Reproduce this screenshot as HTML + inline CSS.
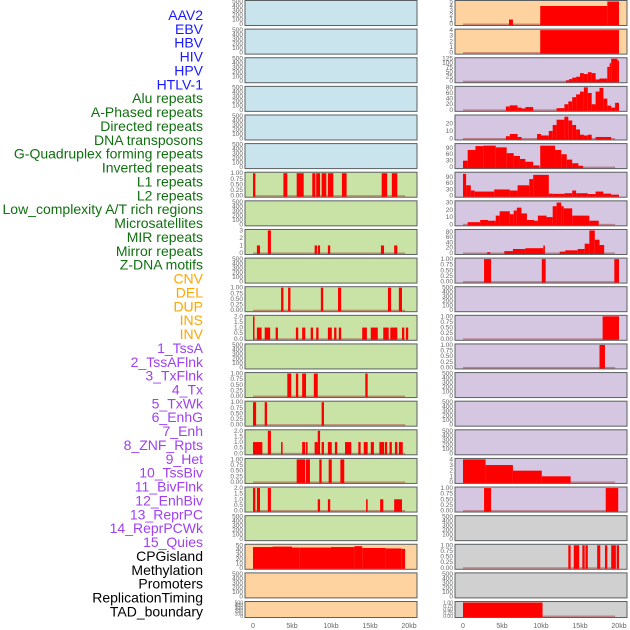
<!DOCTYPE html>
<html><head><meta charset="utf-8">
<style>
html,body{margin:0;padding:0;background:#fff;}
svg{display:block;font-family:"Liberation Sans",sans-serif;}
</style></head>
<body>
<svg id="chart" width="630" height="630" viewBox="0 0 630 630"></svg>
<script>
const trackNames=["AAV2","EBV","HBV","HIV","HPV","HTLV-1","Alu repeats","A-Phased repeats","Directed repeats","DNA transposons","G-Quadruplex forming repeats","Inverted repeats","L1 repeats","L2 repeats","Low_complexity A/T rich regions","Microsatellites","MIR repeats","Mirror repeats","Z-DNA motifs","CNV","DEL","DUP","INS","INV","1_TssA","2_TssAFlnk","3_TxFlnk","4_Tx","5_TxWk","6_EnhG","7_Enh","8_ZNF_Rpts","9_Het","10_TssBiv","11_BivFlnk","12_EnhBiv","13_ReprPC","14_ReprPCWk","15_Quies","CPGisland","Methylation","Promoters","ReplicationTiming","TAD_boundary"];
const labelColors=["#1a1aff","#1a1aff","#1a1aff","#1a1aff","#1a1aff","#1a1aff","#107010","#107010","#107010","#107010","#107010","#107010","#107010","#107010","#107010","#107010","#107010","#107010","#107010","#ffa500","#ffa500","#ffa500","#ffa500","#ffa500","#a040f0","#a040f0","#a040f0","#a040f0","#a040f0","#a040f0","#a040f0","#a040f0","#a040f0","#a040f0","#a040f0","#a040f0","#a040f0","#a040f0","#a040f0","#000","#000","#000","#000","#000"];
const xTickValues=[0,5,10,15,20];
const xTickLabels=["0","5kb","10kb","15kb","20kb"];
const ticks500=[0,100,200,300,400,500];
const ticks1=[0,0.25,0.5,0.75,1];
const ticks2=[0,0.5,1,1.5,2];
// left column segments [startKb,endKb,value]
const L6=[[0,0.3,1],[3.9,4.4,1],[5.6,6.5,1],[7.6,8.0,1],[8.1,8.6,1],[8.8,9.4,1],[9.6,10.3,1],[11.4,12.0,1],[16.5,17.2,1],[17.8,18.5,1]];
const L8=[[0.5,0.9,1],[1.9,2.3,3],[7.9,8.2,1],[8.3,8.6,1],[9.6,9.9,1],[16.4,16.8,1],[18.1,18.5,1]];
const L10=[[3.6,3.9,1],[4.5,4.8,1],[8.7,9.0,1],[10.9,11.3,1],[17.3,17.7,1],[18.7,19.1,1]];
const L11=[[0,0.15,2],[0.5,1.1,1],[1.5,2.2,1],[2.9,3.2,1],[5.5,5.8,1],[6.3,6.7,1],[7.4,7.7,1],[8.1,8.4,1],[9.6,10.1,1],[10.4,10.7,1],[11.0,11.3,1],[14.0,14.6,1],[15.1,16.0,1],[16.7,17.4,1],[17.6,18.5,1],[19.1,19.4,1],[19.6,19.9,1]];
const L13=[[4.4,4.9,1],[5.5,5.8,1],[6.3,6.8,1],[7.8,8.3,1],[14.4,14.7,1]];
const L14=[[0,0.4,1],[1.5,1.8,1],[8.8,9.1,1]];
const L15=[[0,1.2,1],[1.9,2.3,2],[3.6,3.8,1],[6.3,6.7,1],[6.8,7.0,1],[7.9,8.3,1],[8.3,8.6,2],[8.8,9.1,1],[9.6,10.1,1],[10.5,10.8,1],[11.8,12.6,1],[13.5,13.8,1],[14.2,14.7,1],[15.1,15.5,1],[16.2,16.8,1],[16.9,17.2,1],[17.5,17.8,1],[18.2,18.5,1],[18.7,19.2,1]];
const L16=[[5.6,6.7,1],[6.8,7.3,1],[8.5,8.8,1],[9.7,10.1,1],[11.2,11.7,1]];
const L17=[[0,0.3,2],[0.5,0.9,2],[1.9,2.3,2],[8.3,8.6,1],[9.6,9.9,1],[14.5,14.7,1],[16.3,16.7,1],[18.1,19.1,1]];
const L19=[[0,2.5,46],[2.5,5,47],[5,6,45],[6,10,45],[10,13,46],[13,14,48],[14,17,44],[17,19,43],[19,19.5,42]];
// right column
const R0=[[5.9,6.4,1],[9.9,18.5,4],[18.5,20,5]];
const R1=[[9.9,20,4]];
const R2=[[13.2,13.6,5],[13.6,14,12],[14,14.5,20],[14.5,15,25],[15,15.5,45],[15.5,16,40],[16,16.5,50],[16.5,17,45],[17,17.5,10],[17.5,18.5,15],[18.5,18.8,80],[18.8,19,100],[19,19.8,125],[19.8,20,115]];
const R3=[[5.5,6,12],[6,7,16],[7,7.5,8],[7.5,8,5],[8,9,10],[12,13,6],[13,13.5,20],[13.5,14,30],[14,14.5,45],[14.5,15,55],[15,15.5,65],[15.5,16,80],[16,16.5,60],[16.5,17,20],[17,17.5,65],[17.5,18,78],[18,18.5,40],[18.5,19,15],[19,19.5,8],[19.5,20,25]];
const R4=[[5.5,6,3],[6,7,6],[7,7.5,2],[9.5,10,6],[10,11,4],[11,11.5,10],[11.5,12,18],[12,13,25],[13,13.5,29],[13.5,14,24],[14,14.5,18],[14.5,15,12],[15,15.5,5],[15.5,16,4],[16,16.5,5],[17,18,2],[18,19,2]];
const R5=[[0,0.6,30],[0.6,1.6,80],[1.6,2.6,98],[2.6,4.2,100],[4.2,5.6,92],[5.6,6.5,65],[6.5,7.3,52],[7.3,8,38],[8,9,25],[9,9.8,8],[9.9,11.8,100],[11.8,12.6,80],[12.6,13.3,60],[13.3,14,35],[14,14.8,18],[14.8,15.4,6]];
const R6=[[0,0.4,105],[0.4,1,50],[1,1.5,25],[1.5,4,20],[4,6,30],[6,7,25],[7,8.5,50],[8.5,9,80],[9,11,100],[11,11.5,10],[11.5,13,9],[13,14,12],[14,14.5,25],[14.5,16,12],[16,17,8],[17,18,20],[18,19,10],[19,20,5]];
const R7=[[0.6,2.2,3],[2.2,3.2,6],[3.2,4.2,5],[4.2,4.7,12],[4.7,6,18],[6,6.5,14],[6.5,6.9,19],[6.9,7.5,23],[7.5,8.2,15],[8.2,9.1,6],[9.1,9.6,5],[9.6,10.7,12],[10.7,11.5,10],[11.5,12,25],[12,12.6,30],[12.6,12.9,25],[12.9,14,22],[14,16.2,12],[16.2,17.4,5]];
const R8=[[3.1,3.5,3],[5.3,6.4,7],[6.4,8,15],[8,10.3,18],[10.3,10.5,28],[12.4,13.1,5],[13.1,14.7,10],[14.7,15.6,15],[15.6,16.2,35],[16.2,16.9,85],[16.9,17.5,50],[17.5,18.1,30]];
const R9=[[2.7,3.6,1],[10.1,10.6,1],[19.4,20,1]];
const R11=[[17.9,20,1]];
const R12=[[17.5,18.2,1]];
const R16=[[0,2.9,4],[2.9,6.4,3],[6.4,10.1,2],[10.1,13.8,1]];
const R17=[[2.7,3.6,1],[18.3,19.9,1]];
const R19=[[13.5,13.8,1],[14.2,14.9,1],[15.3,15.6,1],[15.7,16.0,1],[17.2,17.6,1],[18.2,18.5,1],[19.0,19.6,1],[19.7,20,1]];
const R21=[[0,10.2,1]];

const BLUE="#c9e4ec",GREEN="#c9e2a5",ORANGE="#ffd39f",PURPLE="#d5c6e2",GRAY="#d0d0d0";
const leftPanels=[];
for(let r=0;r<22;r++){
  let bg=r<6?BLUE:(r<19?GREEN:ORANGE);
  leftPanels.push({bg:bg,max:500,ticks:ticks500,segs:null});
}
function setP(arr,r,max,ticks,segs,fmt){arr[r]={bg:arr[r].bg,max:max,ticks:ticks,segs:segs,fmt:fmt};}
setP(leftPanels,6,1,ticks1,L6,2);
setP(leftPanels,8,3,[0,1,2,3],L8,0);
setP(leftPanels,10,1,ticks1,L10,2);
setP(leftPanels,11,2,ticks2,L11,1);
setP(leftPanels,13,1,ticks1,L13,2);
setP(leftPanels,14,1,ticks1,L14,2);
setP(leftPanels,15,2,ticks2,L15,1);
setP(leftPanels,16,1,ticks1,L16,2);
setP(leftPanels,17,2,ticks2,L17,1);
setP(leftPanels,19,50,[0,10,20,30,40,50],L19,0);
const rightPanels=[];
for(let r=0;r<22;r++){
  let bg=r<2?ORANGE:(r<18?PURPLE:GRAY);
  rightPanels.push({bg:bg,max:500,ticks:ticks500,segs:null});
}
setP(rightPanels,0,5,[0,1,2,3,4,5],R0,0);
setP(rightPanels,1,4,[0,1,2,3,4],R1,0);
setP(rightPanels,2,125,[0,25,50,75,100,125],R2,0);
setP(rightPanels,3,80,[0,20,40,60,80],R3,0);
setP(rightPanels,4,30,[0,10,20],R4,0);
setP(rightPanels,5,105,[0,30,60,90],R5,0);
setP(rightPanels,6,108,[0,30,60,90],R6,0);
setP(rightPanels,7,31,[0,10,20,30],R7,0);
setP(rightPanels,8,85,[0,20,40,60,80],R8,0);
setP(rightPanels,9,1,ticks1,R9,2);
setP(rightPanels,11,1,ticks1,R11,2);
setP(rightPanels,12,1,ticks1,R12,2);
setP(rightPanels,16,4,[0,1,2,3,4],R16,0);
setP(rightPanels,17,1,ticks1,R17,2);
setP(rightPanels,19,1,ticks1,R19,2);
setP(rightPanels,21,1,ticks1,R21,2);

const svg=document.getElementById('chart');
const NS="http://www.w3.org/2000/svg";
function mk(tag,attrs,parent){const e=document.createElementNS(NS,tag);for(const k in attrs)e.setAttribute(k,attrs[k]);(parent||svg).appendChild(e);return e;}

// labels
for(let i=0;i<trackNames.length;i++){
  const t=mk('text',{x:203,y:20+i*13.87,'text-anchor':'end','font-size':'14',fill:labelColors[i]});
  t.textContent=trackNames[i];
  
  
}

function drawPanel(p,r,col){
  const px=col===0?245:455, pw=172;
  const top=r*28.62+0.5;
  const h=r===21?16:25;
  const g=mk('g',{});
  
  
  mk('rect',{x:px,y:top,width:pw,height:h,fill:p.bg,stroke:'#5a5f62','stroke-width':1},g);
  const x0=px+8, kbw=7.8;
  const xs=kb=>x0+kb*kbw;
  const yb=top+h-1.5, yt=top+1;
  const ys=v=>yb-(v/p.max)*(yb-yt);
  // y ticks
  for(const tv of p.ticks){
    const lab=mk('text',{x:px-2,y:ys(tv)+2,'text-anchor':'end','font-size':r===21?'5':'6.5',fill:'#666'},g);
    lab.textContent=p.fmt===2?tv.toFixed(2):(p.fmt===1?tv.toFixed(1):String(tv));
    
    
  }
  if(p.segs){
    mk('rect',{x:xs(0),y:yb-0.5,width:xs(19.5)-xs(0),height:1.5,fill:'rgba(160,40,40,0.45)'},g);
    for(const s of p.segs){
      const b=mk('rect',{x:xs(s[0]),y:ys(s[2]),width:Math.max(1.5,xs(s[1])-xs(s[0])),height:yb-ys(s[2])+1,fill:'#ff0000'},g);
      
      
    }
  }
}
leftPanels.forEach((p,r)=>drawPanel(p,r,0));
rightPanels.forEach((p,r)=>drawPanel(p,r,1));

// x axis ticks
for(let c=0;c<2;c++){
  const x0=(c===0?245:455)+8;
  for(let i=0;i<xTickValues.length;i++){
    const t=mk('text',{x:x0+xTickValues[i]*7.8,y:628,'text-anchor':'middle','font-size':'7',fill:'#666'});
    t.textContent=xTickLabels[i];
    
    
  }
}
</script>
</body></html>
